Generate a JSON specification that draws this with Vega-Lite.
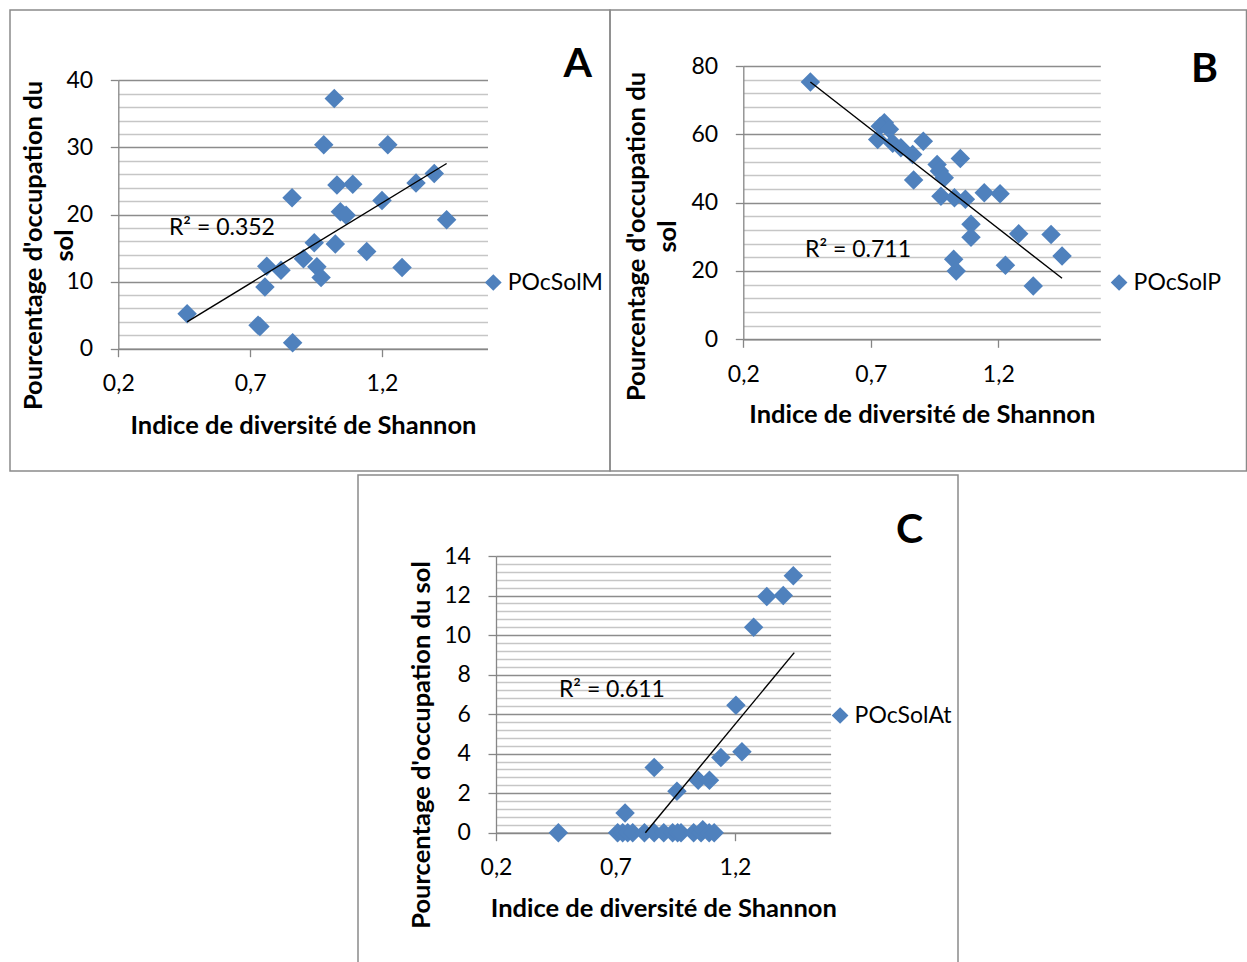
{
  "$schema": "https://vega.github.io/schema/vega-lite/v6.json",
  "padding": {"left": 9, "top": 9, "right": 0, "bottom": 0},
  "background": "white",
  "config": {
    "font": "Lato",
    "view": {"stroke": "#8a8a8a", "strokeWidth": 1.5},
    "axis": {"labelFont": "Lato", "labelFontSize": 23, "labelColor": "#000", "titleFont": "Lato", "titleFontSize": 25.5, "titleFontWeight": "bold", "titleColor": "#000", "domainColor": "#868686", "domainWidth": 1.3, "tickColor": "#868686", "tickWidth": 1.3, "tickSize": 8, "labelFlush": false, "labelOverlap": false, "labelBound": false},
    "title": {"font": "Lato", "fontSize": 41, "fontWeight": "bold", "color": "#000", "anchor": "end", "frame": "group", "offset": 0, "baseline": "alphabetic"},
    "legend": {"orient": "none", "title": null, "symbolType": "diamond", "symbolSize": 280, "symbolStrokeWidth": 0, "symbolOpacity": 1, "labelFont": "Lato", "labelFontSize": 23, "labelColor": "#000", "labelOffset": 3, "padding": 0}
  },
  "resolve": {"scale": {"color": "independent"}, "legend": {"color": "independent"}},
  "spacing": 2,
  "vconcat": [
    {
      "bounds": "flush",
      "spacing": 0,
      "resolve": {"scale": {"color": "independent"}, "legend": {"color": "independent"}},
      "hconcat": [
        {
          "width": 600, "height": 461,
          "title": {"text": "A", "dx": -18, "dy": 80},
          "resolve": {"axis": {"x": "independent", "y": "independent"}},
          "layer": [
            {
              "data": {"values": [
                {"serie": "POcSolM", "x": 0.461, "y": 5.2},
                {"serie": "POcSolM", "x": 0.730, "y": 3.5},
                {"serie": "POcSolM", "x": 0.737, "y": 3.3},
                {"serie": "POcSolM", "x": 0.861, "y": 0.9},
                {"serie": "POcSolM", "x": 0.763, "y": 12.3},
                {"serie": "POcSolM", "x": 0.817, "y": 11.7},
                {"serie": "POcSolM", "x": 0.756, "y": 9.2},
                {"serie": "POcSolM", "x": 0.859, "y": 22.5},
                {"serie": "POcSolM", "x": 0.902, "y": 13.4},
                {"serie": "POcSolM", "x": 0.943, "y": 15.8},
                {"serie": "POcSolM", "x": 0.953, "y": 12.2},
                {"serie": "POcSolM", "x": 0.969, "y": 10.6},
                {"serie": "POcSolM", "x": 0.979, "y": 30.4},
                {"serie": "POcSolM", "x": 1.019, "y": 37.3},
                {"serie": "POcSolM", "x": 1.029, "y": 24.4},
                {"serie": "POcSolM", "x": 1.089, "y": 24.5},
                {"serie": "POcSolM", "x": 1.042, "y": 20.4},
                {"serie": "POcSolM", "x": 1.064, "y": 19.9},
                {"serie": "POcSolM", "x": 1.023, "y": 15.6},
                {"serie": "POcSolM", "x": 1.142, "y": 14.5},
                {"serie": "POcSolM", "x": 1.200, "y": 22.1},
                {"serie": "POcSolM", "x": 1.222, "y": 30.4},
                {"serie": "POcSolM", "x": 1.276, "y": 12.1},
                {"serie": "POcSolM", "x": 1.329, "y": 24.7},
                {"serie": "POcSolM", "x": 1.398, "y": 26.1},
                {"serie": "POcSolM", "x": 1.445, "y": 19.2}
              ]},
              "mark": {"type": "point", "shape": "diamond", "filled": true, "size": 380, "opacity": 1},
              "encoding": {
                "x": {"field": "x", "type": "quantitative",
                  "scale": {"domain": [0.2, 1.6], "range": [108.3, 477.5], "nice": false, "zero": false},
                  "axis": {"orient": "bottom", "values": [0.2, 0.7, 1.2], "grid": false, "offset": -122.3, "labelExpr": "replace(format(datum.value, '.1f'), '.', ',')", "labelBaseline": "middle", "labelPadding": 27, "title": "Indice de diversité de Shannon", "titleY": 76.3, "titleBaseline": "middle"}},
                "y": {"field": "y", "type": "quantitative",
                  "scale": {"domain": [0, 40], "range": [338.7, 70.3], "nice": false, "zero": false},
                  "axis": {"orient": "left", "values": [0,2,4,6,8,10,12,14,16,18,20,22,24,26,28,30,32,34,36,38,40], "offset": -108.3, "grid": true,
                    "gridColor": {"condition": {"test": "datum.value % 10 === 0", "value": "#8c8c8c"}, "value": "#c6c6c6"}, "gridWidth": 1.3,
                    "tickOpacity": {"condition": {"test": "datum.value % 10 === 0", "value": 1}, "value": 0},
                    "labelExpr": "datum.value % 10 === 0 ? '' + datum.value : ''", "labelPadding": 17.6,
                    "title": ["Pourcentage d'occupation du", "sol"], "titleX": -85.3, "titleY": 235, "titleBaseline": "middle", "titleAlign": "center", "titleAngle": -90, "titleLineHeight": 31}},
                "color": {"field": "serie", "type": "nominal", "scale": {"range": ["#4F81BD"]}, "legend": {"legendX": 471.8, "legendY": 261}}
              }
            },
            {
              "data": {"values": [{"x": 0.461, "y": 4.0}, {"x": 1.445, "y": 27.6}]},
              "mark": {"type": "line", "color": "#000", "strokeWidth": 1.4},
              "encoding": {"x": {"field": "x", "type": "quantitative", "axis": null}, "y": {"field": "y", "type": "quantitative", "axis": null}}
            },
            {
              "data": {"values": [{"r2": "R² = 0.352"}]},
              "mark": {"type": "text", "font": "Lato", "fontSize": 23, "color": "#000", "align": "center", "baseline": "middle"},
              "encoding": {"x": {"datum": 0.593, "type": "quantitative", "axis": null}, "y": {"datum": 18.0, "type": "quantitative", "axis": null}, "text": {"field": "r2", "type": "nominal"}}
            }
          ]
        },
        {
          "width": 636.5, "height": 461,
          "title": {"text": "B", "dx": -28.5, "dy": 85},
          "resolve": {"axis": {"x": "independent", "y": "independent"}},
          "layer": [
            {
              "data": {"values": [
                {"serie": "POcSolP", "x": 0.463, "y": 75.3},
                {"serie": "POcSolP", "x": 0.753, "y": 63.4},
                {"serie": "POcSolP", "x": 0.737, "y": 62.4},
                {"serie": "POcSolP", "x": 0.773, "y": 61.5},
                {"serie": "POcSolP", "x": 0.727, "y": 58.5},
                {"serie": "POcSolP", "x": 0.786, "y": 57.4},
                {"serie": "POcSolP", "x": 0.818, "y": 56.1},
                {"serie": "POcSolP", "x": 0.864, "y": 54.1},
                {"serie": "POcSolP", "x": 0.906, "y": 58.0},
                {"serie": "POcSolP", "x": 0.960, "y": 51.2},
                {"serie": "POcSolP", "x": 0.969, "y": 49.3},
                {"serie": "POcSolP", "x": 0.988, "y": 47.3},
                {"serie": "POcSolP", "x": 1.051, "y": 52.9},
                {"serie": "POcSolP", "x": 0.868, "y": 46.6},
                {"serie": "POcSolP", "x": 0.975, "y": 41.9},
                {"serie": "POcSolP", "x": 1.028, "y": 41.4},
                {"serie": "POcSolP", "x": 1.071, "y": 41.0},
                {"serie": "POcSolP", "x": 1.145, "y": 42.9},
                {"serie": "POcSolP", "x": 1.207, "y": 42.6},
                {"serie": "POcSolP", "x": 1.093, "y": 33.7},
                {"serie": "POcSolP", "x": 1.093, "y": 29.9},
                {"serie": "POcSolP", "x": 1.280, "y": 30.9},
                {"serie": "POcSolP", "x": 1.407, "y": 30.7},
                {"serie": "POcSolP", "x": 1.450, "y": 24.4},
                {"serie": "POcSolP", "x": 1.025, "y": 23.4},
                {"serie": "POcSolP", "x": 1.035, "y": 20.0},
                {"serie": "POcSolP", "x": 1.228, "y": 21.7},
                {"serie": "POcSolP", "x": 1.337, "y": 15.6}
              ]},
              "mark": {"type": "point", "shape": "diamond", "filled": true, "size": 380, "opacity": 1},
              "encoding": {
                "x": {"field": "x", "type": "quantitative",
                  "scale": {"domain": [0.2, 1.6], "range": [133.3, 490.3], "nice": false, "zero": false},
                  "axis": {"orient": "bottom", "values": [0.2, 0.7, 1.2], "grid": false, "offset": -131.7, "labelExpr": "replace(format(datum.value, '.1f'), '.', ',')", "labelBaseline": "middle", "labelPadding": 27, "title": "Indice de diversité de Shannon", "titleY": 74.7, "titleBaseline": "middle"}},
                "y": {"field": "y", "type": "quantitative",
                  "scale": {"domain": [0, 80], "range": [329.3, 56], "nice": false, "zero": false},
                  "axis": {"orient": "left", "values": [0,4,8,12,16,20,24,28,32,36,40,44,48,52,56,60,64,68,72,76,80], "offset": -133.3, "grid": true,
                    "gridColor": {"condition": {"test": "datum.value % 20 === 0", "value": "#8c8c8c"}, "value": "#c6c6c6"}, "gridWidth": 1.3,
                    "tickOpacity": {"condition": {"test": "datum.value % 20 === 0", "value": 1}, "value": 0},
                    "labelExpr": "datum.value % 20 === 0 ? '' + datum.value : ''", "labelPadding": 17.6,
                    "title": ["Pourcentage d'occupation du", "sol"], "titleX": -107.3, "titleY": 226, "titleBaseline": "middle", "titleAlign": "center", "titleAngle": -90, "titleLineHeight": 31}},
                "color": {"field": "serie", "type": "nominal", "scale": {"range": ["#4F81BD"]}, "legend": {"legendX": 497.6, "legendY": 261}}
              }
            },
            {
              "data": {"values": [{"x": 0.463, "y": 75.3}, {"x": 1.45, "y": 17.85}]},
              "mark": {"type": "line", "color": "#000", "strokeWidth": 1.4},
              "encoding": {"x": {"field": "x", "type": "quantitative", "axis": null}, "y": {"field": "y", "type": "quantitative", "axis": null}}
            },
            {
              "data": {"values": [{"r2": "R² = 0.711"}]},
              "mark": {"type": "text", "font": "Lato", "fontSize": 23, "color": "#000", "align": "center", "baseline": "middle"},
              "encoding": {"x": {"datum": 0.650, "type": "quantitative", "axis": null}, "y": {"datum": 26.1, "type": "quantitative", "axis": null}, "text": {"field": "r2", "type": "nominal"}}
            }
          ]
        }
      ]
    },
    {
      "bounds": "flush",
      "spacing": 0,
      "resolve": {"scale": {"color": "independent"}, "legend": {"color": "independent"}},
      "hconcat": [
        {
          "width": 348, "height": 10,
          "view": {"stroke": null},
          "data": {"values": []},
          "mark": "point",
          "encoding": {}
        },
        {
          "width": 600, "height": 490,
          "title": {"text": "C", "dx": -35, "dy": 81},
          "resolve": {"axis": {"x": "independent", "y": "independent"}},
          "layer": [
            {
              "data": {"values": [
                {"serie": "POcSolAt", "x": 0.461, "y": 0},
                {"serie": "POcSolAt", "x": 0.709, "y": 0},
                {"serie": "POcSolAt", "x": 0.730, "y": 0},
                {"serie": "POcSolAt", "x": 0.751, "y": 0},
                {"serie": "POcSolAt", "x": 0.772, "y": 0},
                {"serie": "POcSolAt", "x": 0.821, "y": 0},
                {"serie": "POcSolAt", "x": 0.862, "y": 0},
                {"serie": "POcSolAt", "x": 0.902, "y": 0},
                {"serie": "POcSolAt", "x": 0.939, "y": 0},
                {"serie": "POcSolAt", "x": 0.960, "y": 0},
                {"serie": "POcSolAt", "x": 0.974, "y": 0},
                {"serie": "POcSolAt", "x": 1.027, "y": 0},
                {"serie": "POcSolAt", "x": 1.058, "y": 0},
                {"serie": "POcSolAt", "x": 1.065, "y": 0.15},
                {"serie": "POcSolAt", "x": 1.092, "y": 0},
                {"serie": "POcSolAt", "x": 1.113, "y": 0},
                {"serie": "POcSolAt", "x": 0.740, "y": 1.0},
                {"serie": "POcSolAt", "x": 0.862, "y": 3.3},
                {"serie": "POcSolAt", "x": 0.957, "y": 2.1},
                {"serie": "POcSolAt", "x": 1.046, "y": 2.65},
                {"serie": "POcSolAt", "x": 1.093, "y": 2.65},
                {"serie": "POcSolAt", "x": 1.141, "y": 3.8},
                {"serie": "POcSolAt", "x": 1.229, "y": 4.1},
                {"serie": "POcSolAt", "x": 1.204, "y": 6.45},
                {"serie": "POcSolAt", "x": 1.278, "y": 10.4},
                {"serie": "POcSolAt", "x": 1.333, "y": 11.95},
                {"serie": "POcSolAt", "x": 1.402, "y": 12.0},
                {"serie": "POcSolAt", "x": 1.444, "y": 13.0}
              ]},
              "mark": {"type": "point", "shape": "diamond", "filled": true, "size": 380, "opacity": 1},
              "encoding": {
                "x": {"field": "x", "type": "quantitative",
                  "scale": {"domain": [0.2, 1.6], "range": [138, 472.6], "nice": false, "zero": false},
                  "axis": {"orient": "bottom", "values": [0.2, 0.7, 1.2], "grid": false, "offset": -132.3, "labelExpr": "replace(format(datum.value, '.1f'), '.', ',')", "labelBaseline": "middle", "labelPadding": 27, "title": "Indice de diversité de Shannon", "titleY": 75.3, "titleBaseline": "middle"}},
                "y": {"field": "y", "type": "quantitative",
                  "scale": {"domain": [0, 14], "range": [357.7, 81], "nice": false, "zero": false},
                  "axis": {"orient": "left", "values": [0,0.4,0.8,1.2,1.6,2,2.4,2.8,3.2,3.6,4,4.4,4.8,5.2,5.6,6,6.4,6.8,7.2,7.6,8,8.4,8.8,9.2,9.6,10,10.4,10.8,11.2,11.6,12,12.4,12.8,13.2,13.6,14], "offset": -138, "grid": true,
                    "gridColor": {"condition": {"test": "datum.value % 2 === 0", "value": "#8c8c8c"}, "value": "#c6c6c6"}, "gridWidth": 1.3,
                    "tickOpacity": {"condition": {"test": "datum.value % 2 === 0", "value": 1}, "value": 0},
                    "labelExpr": "datum.value % 2 === 0 ? '' + datum.value : ''", "labelPadding": 17.6,
                    "title": "Pourcentage d'occupation du sol", "titleX": -75, "titleY": 269.5, "titleBaseline": "middle", "titleAlign": "center", "titleAngle": -90}},
                "color": {"field": "serie", "type": "nominal", "scale": {"range": ["#4F81BD"]}, "legend": {"legendX": 470.6, "legendY": 229}}
              }
            },
            {
              "data": {"values": [{"x": 0.825, "y": 0}, {"x": 1.448, "y": 9.11}]},
              "mark": {"type": "line", "color": "#000", "strokeWidth": 1.4},
              "encoding": {"x": {"field": "x", "type": "quantitative", "axis": null}, "y": {"field": "y", "type": "quantitative", "axis": null}}
            },
            {
              "data": {"values": [{"r2": "R² = 0.611"}]},
              "mark": {"type": "text", "font": "Lato", "fontSize": 23, "color": "#000", "align": "center", "baseline": "middle"},
              "encoding": {"x": {"datum": 0.685, "type": "quantitative", "axis": null}, "y": {"datum": 7.22, "type": "quantitative", "axis": null}, "text": {"field": "r2", "type": "nominal"}}
            }
          ]
        }
      ]
    }
  ]
}
